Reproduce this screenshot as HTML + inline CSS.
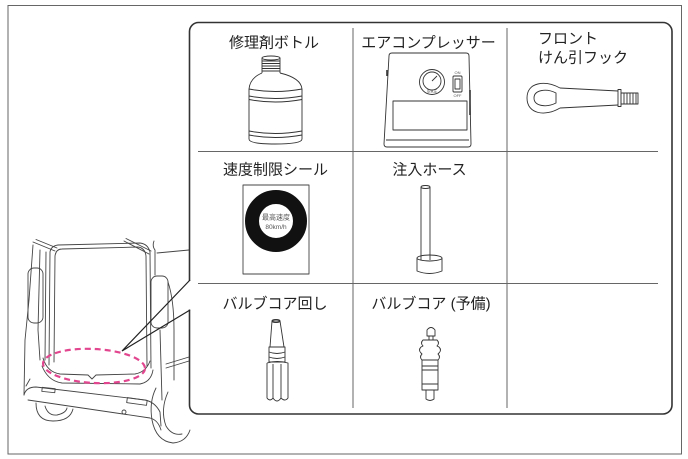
<!DOCTYPE html>
<html><head><meta charset="utf-8">
<style>
html,body{margin:0;padding:0;background:#fff;}
svg{display:block;}
text{font-family:"Liberation Sans","Noto Sans CJK JP",sans-serif;fill:#222;}
</style></head>
<body>
<svg width="688" height="459" viewBox="0 0 688 459" xmlns="http://www.w3.org/2000/svg">
<!-- outer frame -->
<rect x="8" y="5.5" width="673.5" height="448.5" fill="#fff" stroke="#666" stroke-width="1"/>

<!-- car line drawing -->
<g fill="none" stroke="#444" stroke-width="0.9" stroke-linejoin="round" stroke-linecap="round">
  <!-- hinge struts -->
  <path d="M33,242 L55,251 M36,239.5 L57,248"/>
  <path d="M124,241 L149,254 M126,238.5 L151,251"/>
  <!-- opening frame -->
  <path d="M49,365 L50,252 Q51,246 58,245 L140,243 Q148,244 150,252 L151,368"/>
  <path d="M54,362 L55,256 Q56,249 62,249 L138,247 Q145,248 146,256 L147,366"/>
  <!-- sill -->
  <path d="M43,358 Q47,372 60,374 L88,375 L92,379 L96,375 L135,374 Q146,372 150,361"/>
  <path d="M42,366 Q48,381 62,383 L140,384 Q151,382 153,370"/>
  <!-- left body -->
  <path d="M33,245 L29,300 L25,340 L24,395"/>
  <path d="M40,250 L38,330 L40,360 M46,252 L45,360"/>
  <rect x="28" y="268" width="15" height="55" rx="6"/>
  <!-- right side -->
  <path d="M154,241 Q152,246 155,250 L155,275"/>
  <path d="M157,253 L189,250"/>
  <rect x="151" y="276" width="17" height="52" rx="6"/>
  <path d="M168,282 Q174,300 174,330 L174,380"/>
  <path d="M160,330 L162,400"/>
  <path d="M166,364 L189,357 M166,368 L189,361"/>
  <!-- bumper -->
  <path d="M24,395 Q26,387 36,387 L145,400 Q155,402 160,412 L161,426"/>
  <path d="M28,400 L150,418 Q158,420 161,430"/>
  <path d="M26,386 L30,379"/>
  <rect x="42" y="388" width="13" height="4" transform="rotate(6 48 390)"/>
  <rect x="127" y="399" width="20" height="5" transform="rotate(8 137 401)"/>
  <circle cx="124" cy="412" r="2"/>
  <!-- wheels -->
  <path d="M36,403 Q36,421 53,421 Q70,421 73,409"/>
  <path d="M45,406 Q48,416 57,415 Q66,413 67,408"/>
  <path d="M156,388 Q149,402 152,420 Q156,441 173,443 Q186,442 190,430"/>
  <path d="M168,392 Q160,410 166,426 Q172,436 182,434"/>
</g>

<!-- inner rounded box -->
<rect x="189.5" y="22.5" width="482.5" height="391.5" rx="9" fill="#fff" stroke="#333" stroke-width="1.6"/>
<!-- gap for pointer -->
<rect x="187" y="281" width="5" height="28.5" fill="#fff"/>
<!-- pointer -->
<path d="M190,280 L122,351 L190,310" fill="none" stroke="#222" stroke-width="1.2" stroke-linejoin="miter"/>

<!-- dashed ellipse -->
<ellipse cx="94" cy="366" rx="51" ry="17" transform="rotate(3 94 366)" fill="none" stroke="#e2468f" stroke-width="2.2" stroke-dasharray="6 4"/>

<!-- dividers -->
<g stroke="#666" stroke-width="1">
  <line x1="353" y1="28" x2="353" y2="408"/>
  <line x1="507" y1="28" x2="507" y2="408"/>
  <line x1="198" y1="151.5" x2="658" y2="151.5"/>
  <line x1="198" y1="283.5" x2="658" y2="283.5"/>
</g>

<!-- labels -->
<g font-size="15">
  <text x="274" y="47.5" text-anchor="middle">修理剤ボトル</text>
  <text x="428.5" y="47.5" text-anchor="middle">エアコンプレッサー</text>
  <text x="538" y="43.5">フロント</text>
  <text x="538" y="62.5">けん引フック</text>
  <text x="275.5" y="174.5" text-anchor="middle">速度制限シール</text>
  <text x="429.5" y="174.5" text-anchor="middle">注入ホース</text>
  <text x="275" y="308.5" text-anchor="middle">バルブコア回し</text>
  <text x="431" y="308.5" text-anchor="middle">バルブコア (予備)</text>
</g>

<!-- icons -->
<g fill="none" stroke="#333" stroke-width="0.9" stroke-linejoin="round">
  <!-- bottle -->
  <path d="M262,58 L262,73 M280,58 L280,73"/>
  <ellipse cx="271" cy="58" rx="9" ry="2"/>
  <path d="M262,61 L280,61 M262,63.5 L280,63.5 M262,66 L280,66 M262,68.5 L280,68.5 M262,71 L280,71"/>
  <path d="M262,73 Q250,78 249,89 L249,139 Q249,144 275,144 Q302,144 302,139 L302,89 Q301,78 280,73"/>
  <path d="M249,89 Q275,94 302,89"/>
  <path d="M249,96 Q275,101 302,96 M249,99.5 Q275,104.5 302,99.5"/>
  <path d="M249,131 Q275,136 302,131 M249,135 Q275,140 302,135"/>

  <!-- compressor -->
  <path d="M392,53 L466,53 Q469,53 469,56 L471,144 Q471,147 468,147 L387,147 Q384,147 384,144 L389,56 Q389,53 392,53 Z"/>
  <path d="M386,140 L469,140"/>
  <circle cx="432" cy="82" r="12.5"/>
  <circle cx="432" cy="81" r="9"/>
  <path d="M432,81 L437,76"/>
  <rect x="453" y="76" width="9" height="16" rx="1"/>
  <rect x="455" y="79" width="5" height="10"/>
  <rect x="393" y="101" width="74" height="29"/>
  <path d="M387,70 L387,76 M470,90 L470,115" stroke-width="1.6"/>

  <!-- tow hook -->
  <path d="M560,88 C545,80 527,82 527,98 C527,114 545,117 560,108"/>
  <path d="M556,93 C546,88 534,90 534,98 C534,106 546,108 556,103 Z"/>
  <path d="M560,88 L618,91 M560,108 L618,105"/>
  <rect x="618" y="89.5" width="3" height="17"/>
  <rect x="621" y="93" width="17" height="11"/>
  <path d="M624,93 V104 M627,93 V104 M630,93 V104 M633,93 V104 M636,93 V104"/>

  <!-- sticker -->
  <rect x="243" y="185" width="66" height="89" stroke="#444"/>

  <!-- hose -->
  <path d="M421,187 L421,260 M430,187 L430,260"/>
  <ellipse cx="425.5" cy="187" rx="4.5" ry="1.5"/>
  <path d="M417,258 L417,271 Q429.5,276 442,271 L442,258"/>
  <ellipse cx="429.5" cy="258" rx="12.5" ry="3"/>

  <!-- valve core tool -->
  <path d="M272,321 L270,347 L284,347 L280,321 Z"/>
  <ellipse cx="276" cy="321" rx="4" ry="1.5"/>
  <path d="M269,347 L269,362 L285,362 L285,347 Z"/>
  <path d="M269,352 Q277,355 285,352 M269,357 Q277,360 285,357"/>
  <path d="M267,363 L267,398 Q270,402 273,398 L273,364 M273,398 Q277,404 281,398 L281,364 M281,398 Q285,402 288,398 L288,363 Q277,360 267,363"/>

  <!-- valve core -->
  <path d="M427,336 L427,330 Q431,325 435,330 L435,336 Z"/>
  <path d="M429,336 L429,340 M433,336 L433,340"/>
  <path d="M423,340 L437,340 Q440,343 437,346 L439,347 Q442,350 439,353 L438,354 Q441,357 438,360 L422,360 Q419,357 422,354 L421,353 Q418,350 421,347 L423,346 Q420,343 423,340 Z"/>
  <rect x="422" y="360" width="16" height="30"/>
  <path d="M422,366 L438,366 M422,370 L438,370 M422,384 L438,384"/>
  <path d="M426,390 L426,399 Q430,402 434,399 L434,390"/>
</g>

<!-- speed sticker ring -->
<circle cx="276" cy="221" r="24" fill="none" stroke="#111" stroke-width="14"/>
<text x="276" y="219.5" text-anchor="middle" font-size="7" style="fill:#555">最高速度</text>
<text x="276" y="229" text-anchor="middle" font-size="6.5" style="fill:#555">80km/h</text>

<!-- compressor tiny text -->
<text x="457.5" y="74" text-anchor="middle" font-size="4" style="fill:#555">ON</text>
<text x="457.5" y="97" text-anchor="middle" font-size="4" style="fill:#555">OFF</text>
<text x="432" y="92.5" text-anchor="middle" font-size="3.5" style="fill:#555">空気圧</text>
</svg>
</body></html>
